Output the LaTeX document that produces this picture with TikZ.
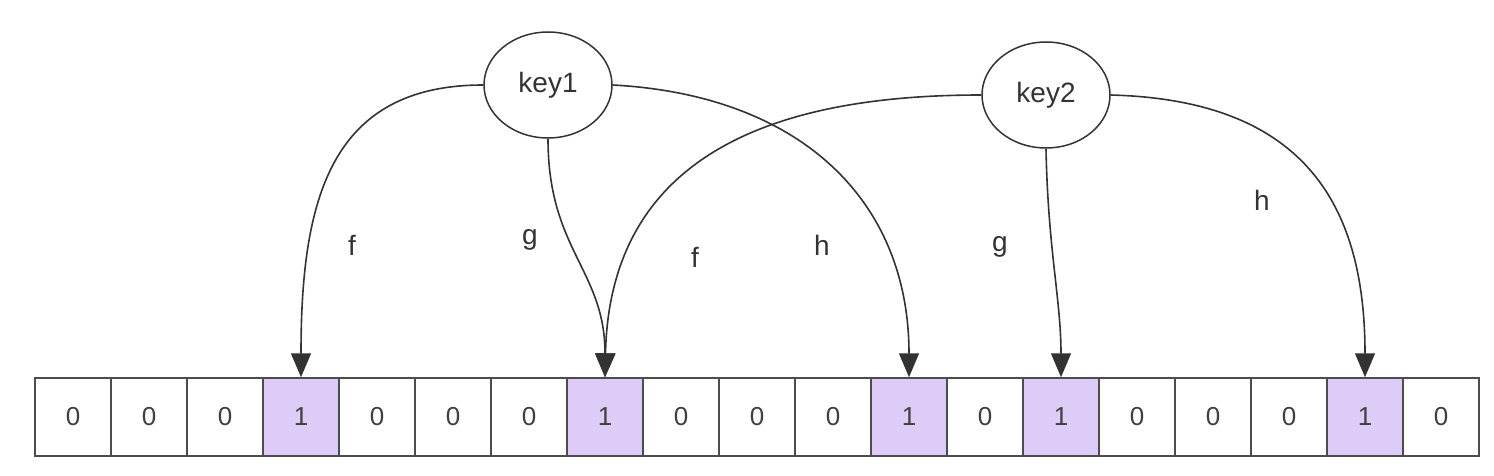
\documentclass[tikz,border=0pt]{standalone}
\usepackage{fontspec}
\setmainfont{Liberation Sans}
\usetikzlibrary{arrows.meta,shapes.geometric}
\definecolor{lav}{RGB}{222,204,248}
\begin{document}
\begin{tikzpicture}[x=1pt,y=-1pt,
  cell/.style={draw=black!70,line width=1.5pt,minimum width=76pt,minimum height=78pt,inner sep=0pt,font=\fontsize{26}{30}\selectfont,text=black!75},
  on/.style={cell,fill=lav},
  key/.style={draw=black!80,line width=1.5pt,ellipse,fill=white,minimum width=128pt,minimum height=106pt,font=\fontsize{28}{32}\selectfont,text=black!80},
  arr/.style={draw=black!80,line width=1.6pt,-{Triangle[length=24pt,width=20pt]}},
  lab/.style={font=\fontsize{28}{32}\selectfont,text=black!80}]
\useasboundingbox (0,0) rectangle (1494,476);
\foreach \v [count=\i from 0] in {0,0,0,1,0,0,0,1,0,0,0,1,0,1,0,0,0,1,0}{
  \ifnum\v=1 \node[on] (c\i) at (73+76*\i,417) {\v};
  \else \node[cell] (c\i) at (73+76*\i,417) {\v};\fi
}
\node[key] (k1) at (548,85) {key1};
\node[key] (k2) at (1046,95) {key2};
\draw[arr] (k1.west) .. controls (330,85) and (301,200) .. (c3.north);
\draw[arr] (k1.south) .. controls (548,250) and (605,270) .. (c7.north);
\draw[arr] (k1.east) .. controls (800,95) and (909,200) .. (c11.north);
\draw[arr] (k2.west) .. controls (800,95) and (610,140) .. (c7.north);
\draw[arr] (k2.south) .. controls (1048,250) and (1061,300) .. (c13.north);
\draw[arr] (k2.east) .. controls (1300,100) and (1365,200) .. (c17.north);
\node[lab] (l1) at (352,245) {f};
\node[lab] (l2) at (530,240) {g};
\node[lab] (l3) at (695,257) {f};
\node[lab] (l4) at (822,245) {h};
\node[lab] (l5) at (1000,247) {g};
\node[lab] (l6) at (1262,200) {h};
\end{tikzpicture}
\end{document}
